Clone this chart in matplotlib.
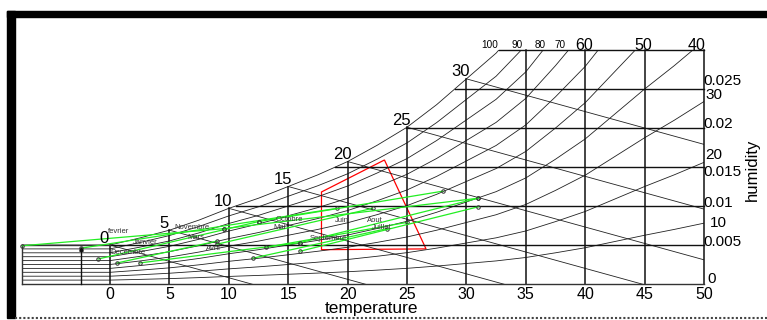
import numpy as np
import matplotlib
matplotlib.use("Agg")
import matplotlib.pyplot as plt
from matplotlib.patches import Rectangle, Polygon

plt.rcParams['font.family'] = ['Liberation Sans', 'DejaVu Sans']

# saturation curve (temperature, humidity kg/kg)
sat_T = [0, 2.5, 5, 7.5, 10, 12.5, 15, 17.5, 20, 22.5, 25, 27.5, 30, 32.5,
         35, 37.5, 40, 42.5, 45, 47.5, 50]
sat_w = [0.0050, 0.0059, 0.0069, 0.0082, 0.0097, 0.0110, 0.0125, 0.0140,
         0.0157, 0.0178, 0.0201, 0.0230, 0.0263, 0.0296, 0.0340, 0.0400,
         0.0465, 0.0545, 0.0625, 0.0700, 0.0780]
rh_levels = [10, 20, 30, 40, 50, 60, 70, 80, 90, 100]
rh_top = [100, 90, 80, 70, 60, 50, 40]          # labelled along the top line
rh_side = [30, 20, 10, 0]                        # labelled on the right edge
temp_ticks = [0, 5, 10, 15, 20, 25, 30, 35, 40, 45, 50]
hum_ticks = [0.005, 0.01, 0.015, 0.02, 0.025]
hum_lines = [0.005, 0.01, 0.015, 0.02, 0.025, 0.03]
wb_temps = [0, 5, 10, 15, 20, 25, 30]
t_min_chart = -7.4

# monthly lines (Tmin, w at Tmin, Tmax, w at Tmax)
months = ['fevrier', 'Janvier', 'Decembre', 'Novembre', 'Mars', 'Avril',
          'Mai', 'Octobre', 'Juin', 'Septembre', 'Aout', 'Juillet']
m_t1 = [-7.4, -2.4, -1.0, 0.6, 2.5, 9.0, 12.0, 13.1, 12.5, 16.0, 16.0, 9.6]
m_w1 = [0.0049, 0.0046, 0.0032, 0.0027, 0.0027, 0.0051, 0.0033, 0.0047,
        0.0080, 0.0042, 0.0053, 0.0071]
m_t2 = [9.6, 19.1, 12.5, 9.0, 16.0, 22.1, 23.3, 25.0, 28.0, 31.0, 31.0, 31.0]
m_w2 = [0.0071, 0.0097, 0.0080, 0.0055, 0.0053, 0.0097, 0.0071, 0.0079,
        0.0119, 0.0099, 0.0110, 0.0110]
arrow_T = -2.4

# comfort zone
zone_T = [17.8, 23.1, 26.6, 17.8]
zone_w = [0.0118, 0.0159, 0.0045, 0.0044]

# label spots (temperature, humidity)
lab_T = [0.7, 3.0, 1.5, 6.9, 7.2, 8.7, 14.3, 15.1, 19.5, 18.4, 22.3, 22.9]
lab_w = [0.0067, 0.0053, 0.0041, 0.0073, 0.0060, 0.0045, 0.0073, 0.0083,
         0.0082, 0.0058, 0.0082, 0.0072]
top_lab_T = [32.0, 34.3, 36.2, 37.9, 39.9, 44.9, 49.4]
side_lab_T = [50.1, 50.1, 50.5, 50.3]
side_lab_w = [0.0242, 0.0165, 0.0078, 0.0006]
hum_lab_w = [0.0054, 0.0104, 0.0144, 0.0205, 0.0260]

fig = plt.figure(figsize=(7.67, 3.2), dpi=100)
ax = fig.add_axes([0, 0, 1, 1])
ax.set_xlim(-9.26, 55.3)
ax.set_ylim(-0.004615, 0.03641)
ax.axis('off')

clip = Rectangle((t_min_chart, 0), 50 - t_min_chart, 0.03, transform=ax.transData)
sat_T = np.array(sat_T)
sat_w = np.array(sat_w)

# relative humidity curves, flat below 0 C
for rh in rh_levels:
    xs = np.concatenate([[t_min_chart], sat_T])
    ys = np.concatenate([[sat_w[0]], sat_w]) * rh / 100.0
    ln, = ax.plot(xs, ys, color='#222222', lw=0.6)
    ln.set_clip_path(clip)
for rh, tx in zip(rh_top, top_lab_T):
    fs = 7.2 if rh >= 70 else 11.5
    ax.text(tx, 0.0306, str(rh), fontsize=fs, ha='center', va='center')
for rh, tx, wy in zip(rh_side, side_lab_T, side_lab_w):
    ax.text(tx, wy, str(rh), fontsize=11, ha='left', va='center')

# wet bulb lines
for t in wb_temps:
    w0 = sat_w[sat_T == t][0]
    ln, = ax.plot([t, t + 60], [w0, w0 - 0.00042 * 60], color='#222222', lw=0.6)
    ln.set_clip_path(clip)
    ax.annotate(str(t), (t, w0), xytext=(-4, 5), textcoords='offset points',
                fontsize=12, ha='center', va='center')

# temperature lines
for t in temp_ticks:
    top = min(sat_w[sat_T == t][0], 0.03)
    ax.plot([t, t], [0, top], color='#111111', lw=1.1)
    ax.text(t, -0.0004, str(t), fontsize=11.5, ha='center', va='top')

# humidity lines
for w in hum_lines:
    t0 = np.interp(w, sat_w, sat_T)
    ax.plot([t0, 50], [w, w], color='#111111', lw=1.0)
for w, wy in zip(hum_ticks, hum_lab_w):
    ax.text(49.95, wy, ('%g' % w), fontsize=11, ha='left', va='center')

ax.plot([t_min_chart, 50], [0, 0], color='#333333', lw=1.0)
ax.plot([t_min_chart, t_min_chart], [0, sat_w[0]], color='#333333', lw=1.0)
ax.plot([t_min_chart, 0], [sat_w[0], sat_w[0]], color='#333333', lw=1.0)

# month lines
for i in range(len(months)):
    ax.plot([m_t1[i], m_t2[i]], [m_w1[i], m_w2[i]], color='#22ee22', lw=0.9)
    ax.plot([m_t1[i], m_t2[i]], [m_w1[i], m_w2[i]], 'o', color='#333333',
            ms=2.5, mfc='none', mew=0.7)
    ax.text(lab_T[i], lab_w[i], months[i], fontsize=5.5, ha='center',
            va='center', color='#333333')
ax.plot([arrow_T, arrow_T], [0, 0.0045], color='#111111', lw=1.0)
ax.plot([arrow_T], [0.0045], '^', color='#111111', ms=2.5)

ax.add_patch(Polygon(np.column_stack([zone_T, zone_w]), closed=True,
                     fill=False, edgecolor='red', lw=0.9))

ax.text(22, -0.0022, 'temperature', fontsize=12.5, ha='center', va='top')
ax.text(54.1, 0.0147, 'humidity', fontsize=12, rotation=90, ha='center', va='center')

# frame
fig.add_artist(Rectangle((7 / 767, 1 - 17 / 320), 760 / 767, 6 / 320,
                         transform=fig.transFigure, color='black'))
fig.add_artist(Rectangle((7 / 767, 1 - 318 / 320), 8 / 767, 307 / 320,
                         transform=fig.transFigure, color='black'))
fig.add_artist(plt.Line2D([15 / 767, 1], [1 - 318 / 320, 1 - 318 / 320],
                          transform=fig.transFigure, color='#444444', lw=1.5,
                          linestyle=(0, (1, 1))))

fig.savefig('out.png', dpi=100)
